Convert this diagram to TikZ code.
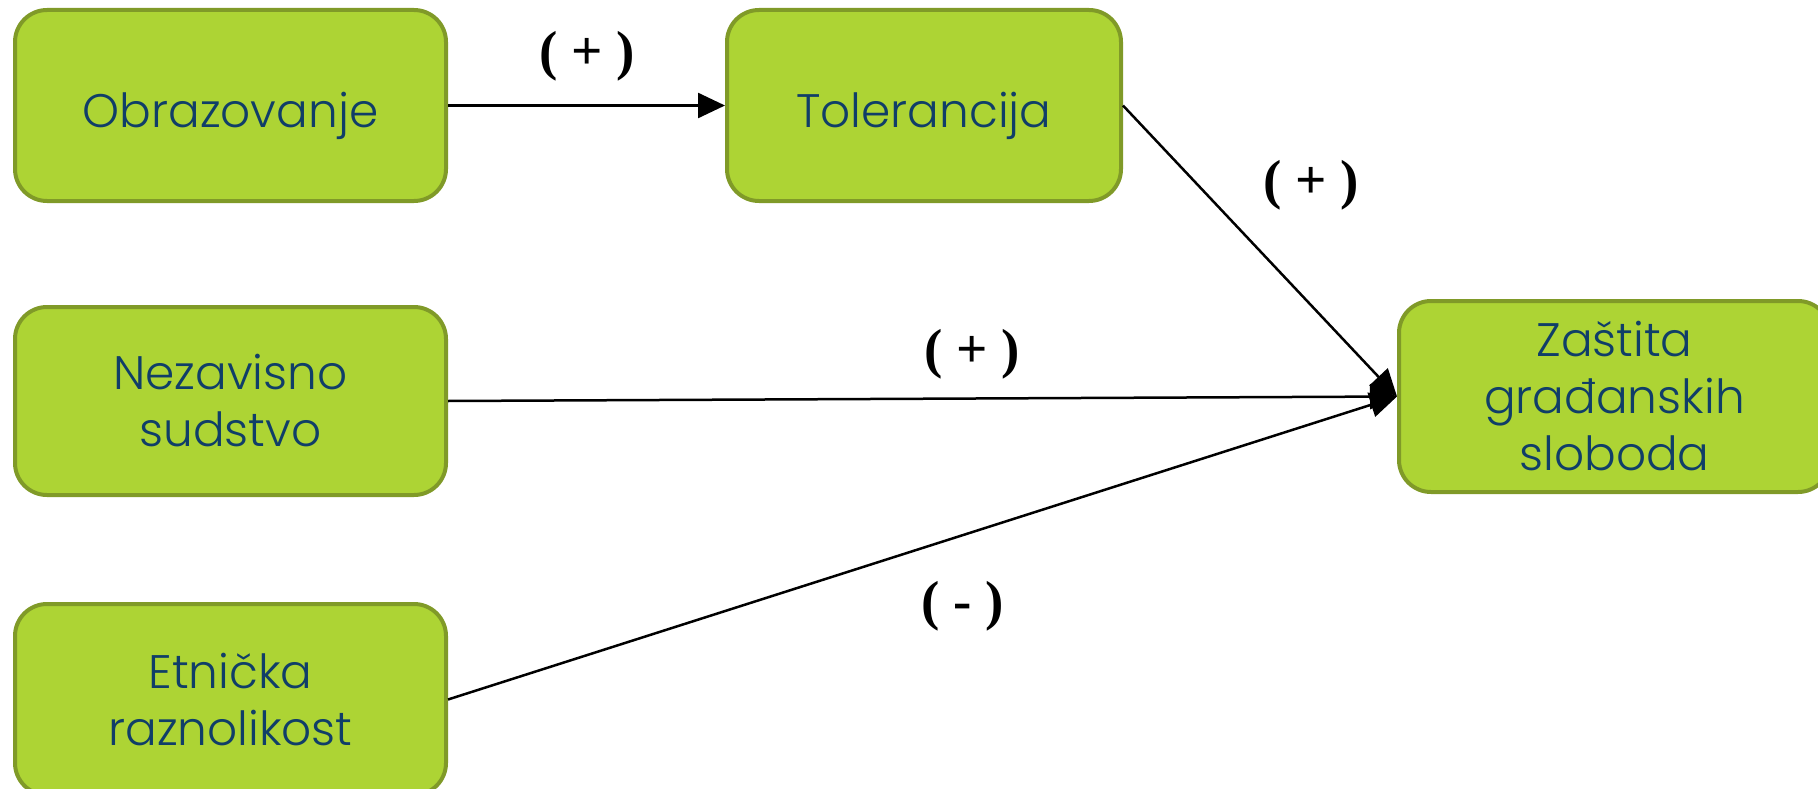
\documentclass[tikz,border=0pt]{standalone}
\usepackage{fontspec}
\setmainfont{Poppins}[UprightFont=* Light]
\newfontfamily\labelfont{Liberation Serif}
\usetikzlibrary{arrows.meta}
\definecolor{boxfill}{RGB}{173,212,52}
\definecolor{boxline}{RGB}{128,154,40}
\definecolor{boxtext}{RGB}{16,62,104}
\newcommand{\lowered}[1]{\raisebox{-10pt}[\height][\depth]{#1}}
\tikzset{
  factor/.style={draw=boxline, fill=boxfill, line width=4pt, rounded corners=32pt,
    minimum width=431pt, minimum height=191pt, inner sep=0pt, align=center,
    text=boxtext, font=\fontsize{47}{57}\selectfont},
  sign/.style={font=\labelfont\bfseries\fontsize{55}{60}\selectfont, inner sep=0pt},
  link/.style={line width=2.5pt, -{Triangle[length=27pt,width=25pt]}}
}
\begin{document}
\begin{tikzpicture}[x=1pt,y=-1pt]
\useasboundingbox (0,0) rectangle (1818,789);
\clip (0,0) rectangle (1818,789);
\node[factor] (obr) at (230.5,105.5) {\lowered{Obrazovanje}};
\node[factor, minimum width=394pt] (tol) at (924,105.5) {\lowered{Tolerancija}};
\node[factor, minimum height=188pt] (nez) at (230.5,401) {Nezavisno\\sudstvo};
\node[factor] (etn) at (230.5,699.5) {Etnička\\raznolikost};
\node[factor] (zas) at (1614.5,396.5) {Zaštita\\građanskih\\sloboda};
\draw[link] (obr.east) -- (tol.west);
\draw[link] (tol.east) -- (zas.west);
\draw[link] (nez.east) -- (zas.west);
\draw[link] (etn.east) -- (zas.west);
\node[sign] (s1) at (587,56) {( + )};
\node[sign] (s2) at (1311,185) {( + )};
\node[sign] (s3) at (972,354) {( + )};
\node[sign] (s4) at (963,606) {( - )};
\end{tikzpicture}
\end{document}
